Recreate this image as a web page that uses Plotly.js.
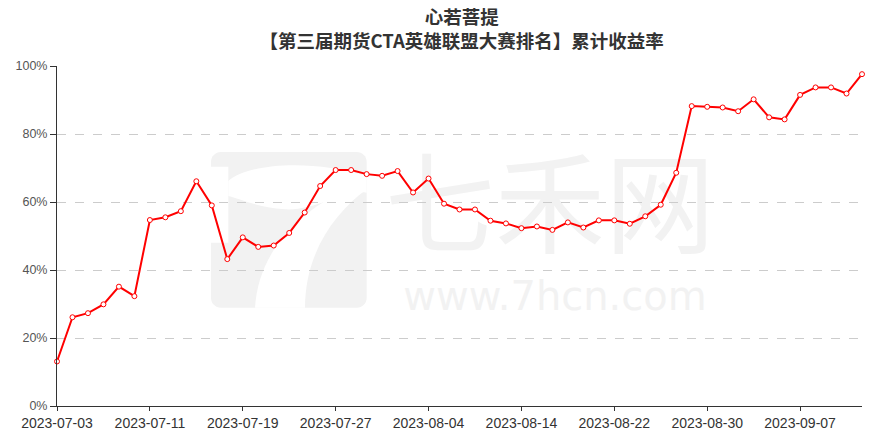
<!DOCTYPE html>
<html>
<head>
<meta charset="utf-8">
<script src="https://cdn.plot.ly/plotly-3.0.1.min.js"></script>
<style>html,body{margin:0;padding:0;background:#fff;}#chart{width:876px;height:430px;}</style>
</head>
<body>
<div id="chart"></div>
<script>
var dates = [
 "2023-07-03","2023-07-04","2023-07-05","2023-07-06","2023-07-07","2023-07-10","2023-07-11","2023-07-12","2023-07-13","2023-07-14",
 "2023-07-17","2023-07-18","2023-07-19","2023-07-20","2023-07-21","2023-07-24","2023-07-25","2023-07-26","2023-07-27","2023-07-28",
 "2023-07-31","2023-08-01","2023-08-02","2023-08-03","2023-08-04","2023-08-07","2023-08-08","2023-08-09","2023-08-10","2023-08-11",
 "2023-08-14","2023-08-15","2023-08-16","2023-08-17","2023-08-18","2023-08-21","2023-08-22","2023-08-23","2023-08-24","2023-08-25",
 "2023-08-28","2023-08-29","2023-08-30","2023-08-31","2023-09-01","2023-09-04","2023-09-05","2023-09-06","2023-09-07","2023-09-08",
 "2023-09-11","2023-09-12","2023-09-13"
];
var returns = [
 13.1,26.1,27.3,29.9,35.1,32.3,54.7,55.5,57.3,66.1,
 59.0,43.2,49.6,46.8,47.2,50.9,56.9,64.7,69.4,69.4,
 68.2,67.7,69.1,62.8,66.9,59.5,57.8,57.8,54.5,53.7,
 52.3,52.8,51.8,54.0,52.5,54.6,54.6,53.6,55.8,59.2,
 68.6,88.2,88.0,87.8,86.7,90.2,84.9,84.3,91.5,93.7,
 93.7,91.9,97.6
];
var yTicks = [0,20,40,60,80,100];
var yTickText = ["0%","20%","40%","60%","80%","100%"];
var xTickDates = ["2023-07-03","2023-07-11","2023-07-19","2023-07-27","2023-08-04","2023-08-14","2023-08-22","2023-08-30","2023-09-07"];
var titleLine1 = "心若菩提";
var titleLine2 = "【第三届期货CTA英雄联盟大赛排名】累计收益率";
var watermarkName = "七禾网";
var watermarkUrl = "www.7hcn.com";

// plot-area geometry (pixels) used only for decorative watermark placement
var M = {l:57, r:14, t:66, b:24};
var PW = 876 - M.l - M.r, PH = 430 - M.t - M.b;
function px(x){ return (x - M.l) / PW; }
function py(y){ return (M.t + PH - y) / PH; }
// logo drawn in a local 3x frame (origin 205,146)
function lx(z){ return px(205 + z/3); }
function ly(z){ return py(146 + z/3); }
function path(pts){
  return pts.map(function(p){
    if(p[0]==="Z") return "Z";
    var s = p[0];
    for(var i=1;i<p.length;i+=2){ s += (i>1?" ":"") + lx(p[i]).toFixed(4) + "," + ly(p[i+1]).toFixed(4); }
    return s;
  }).join(" ");
}
var WM = "#f2f2f2";
var logoShapes = [
  {type:"path", xref:"paper", yref:"paper", layer:"below", line:{width:0}, fillcolor:WM,
   path:path([["M",48,18],["L",455,18],["C",472,18,485,31,485,48],["L",485,455],["C",485,472,472,485,455,485],
              ["L",48,485],["C",31,485,18,472,18,455],["L",18,48],["C",18,31,31,18,48,18],["Z"]])},
  {type:"path", xref:"paper", yref:"paper", layer:"below", line:{width:0}, fillcolor:"#ffffff",
   path:path([["M",18,62],["L",70,62],["L",70,290],["L",18,290],["Z"]])},
  {type:"path", xref:"paper", yref:"paper", layer:"below", line:{width:0}, fillcolor:"#ffffff",
   path:path([["M",70,105],["C",130,50,330,40,485,90],["L",485,140],["C",420,130,330,195,240,190],["C",160,185,110,160,70,150],["Z"]])},
  {type:"path", xref:"paper", yref:"paper", layer:"below", line:{width:0}, fillcolor:"#ffffff",
   path:path([["M",485,130],["C",390,200,300,320,300,485],["L",150,485],["C",160,330,260,210,430,125],["Z"]])}
];
var textShapes = [
  {type:"rect", xref:"paper", yref:"paper", layer:"below", line:{width:0}, fillcolor:"rgba(0,0,0,0)",
   x0:px(380), x1:px(720), y0:py(158), y1:py(272),
   label:{text:watermarkName, textposition:"middle center", font:{family:"Noto Sans CJK SC, sans-serif", size:110, color:WM}}},
  {type:"rect", xref:"paper", yref:"paper", layer:"below", line:{width:0}, fillcolor:"rgba(0,0,0,0)",
   x0:px(380), x1:px(730), y0:py(272), y1:py(314),
   label:{text:watermarkUrl, textposition:"middle center", font:{family:"DejaVu Sans, sans-serif", size:40, color:WM}}}
];

var trace = {
  x: dates, y: returns, type:"scatter", mode:"lines+markers",
  line:{color:"#ff0000", width:2},
  marker:{size:5, color:"#ffffff", line:{color:"#ff0000", width:1}},
  hoverinfo:"x+y", cliponaxis:false
};

var layout = {
  width:876, height:430,
  margin:M,
  paper_bgcolor:"#fff", plot_bgcolor:"rgba(0,0,0,0)",
  showlegend:false,
  title:{
    text:"<b>"+titleLine1+"<br>"+titleLine2+"</b>",
    x:0.527, xanchor:"center", yref:"container", y:0.944, yanchor:"middle",
    font:{family:"Noto Sans CJK SC, sans-serif", size:18.5, color:"#333"}
  },
  xaxis:{
    type:"category", range:[0, dates.length-1],
    tickmode:"array", tickvals:xTickDates, ticktext:xTickDates,
    showgrid:false, zeroline:false,
    showline:true, linecolor:"#333", linewidth:1,
    ticks:"outside", ticklen:4, tickcolor:"#333",
    tickfont:{family:"Liberation Sans, Arial, sans-serif", size:14, color:"#333"}, fixedrange:true
  },
  yaxis:{
    range:[0,100], tickmode:"array", tickvals:yTicks, ticktext:yTickText,
    showgrid:true, gridcolor:"#cccccc", griddash:"dash", gridwidth:1,
    zeroline:false, showline:true, linecolor:"#333", linewidth:1,
    ticks:"outside", ticklen:6, tickcolor:"#333",
    tickfont:{family:"Liberation Sans, Arial, sans-serif", size:12.5, color:"#555"}, fixedrange:true
  },
  shapes: logoShapes.concat(textShapes)
};

Plotly.newPlot("chart", [trace], layout, {displayModeBar:false, staticPlot:true});
</script>
</body>
</html>
